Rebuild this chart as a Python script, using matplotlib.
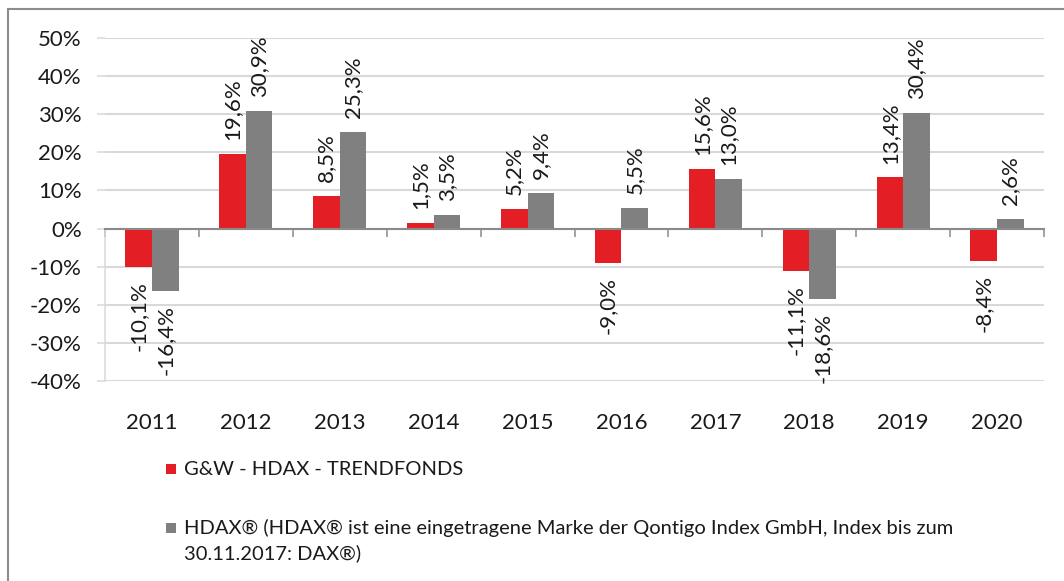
import numpy as np
import matplotlib
matplotlib.use("Agg")
import matplotlib.pyplot as plt
from matplotlib.patches import Rectangle

plt.rcParams['font.family'] = ['Lato', 'DejaVu Sans']

years = ["2011", "2012", "2013", "2014", "2015", "2016", "2017", "2018", "2019", "2020"]
fonds = [-10.1, 19.6, 8.5, 1.5, 5.2, -9.0, 15.6, -11.1, 13.4, -8.4]
hdax = [-16.4, 30.9, 25.3, 3.5, 9.4, 5.5, 13.0, -18.6, 30.4, 2.6]
yticks = [-40, -30, -20, -10, 0, 10, 20, 30, 40, 50]
label_fonds = "G&W - HDAX - TRENDFONDS"
label_hdax = ["HDAX\u00ae (HDAX\u00ae ist eine eingetragene Marke der Qontigo Index GmbH, Index bis zum",
              "30.11.2017: DAX\u00ae)"]

RED = "#e31e24"
GRAY = "#808080"
GRID = "#d9d9d9"
AXIS = "#8a8a8a"
TXT = "#1a1a1a"

W, H = 1064, 581
fig = plt.figure(figsize=(W / 100, H / 100), dpi=100)
ax = fig.add_axes([105 / W, 1 - 381 / H, 939 / W, 343 / H])

x = np.arange(len(years))
bw = 0.283
b1 = ax.bar(x - bw / 2, fonds, bw, color=RED, zorder=3)
b2 = ax.bar(x + bw / 2, hdax, bw, color=GRAY, zorder=3)

def fmt(v):
    return ("%.1f%%" % v).replace(".", ",")

for bars, vals in ((b1, fonds), (b2, hdax)):
    for r, v in zip(bars, vals):
        cx = r.get_x() + r.get_width() / 2
        if v >= 0:
            ax.annotate(fmt(v), (cx, v), xytext=(0, 10), textcoords="offset points",
                        rotation=90, ha="center", va="bottom", fontsize=16, color=TXT)
        else:
            ax.annotate(fmt(v), (cx, v), xytext=(0, -10), textcoords="offset points",
                        rotation=90, ha="center", va="top", fontsize=16, color=TXT)

ax.set_xlim(-0.5, len(years) - 0.5)
ax.set_ylim(-40, 50)
ax.set_yticks(yticks)
ax.set_yticklabels(["%d%%" % t for t in yticks], fontsize=16, color=TXT)
ax.yaxis.grid(True, color=GRID, lw=1.5, zorder=0)
ax.set_axisbelow(True)
ax.tick_params(axis="y", length=5.8, width=1.1, color=GRID, pad=11)

ax.spines["top"].set_visible(False)
ax.spines["right"].set_visible(False)
ax.spines["left"].set_color(GRID)
ax.spines["left"].set_linewidth(1.1)
ax.spines["left"].set_bounds(-40, 0)
ax.spines["bottom"].set_position(("data", 0))
ax.spines["bottom"].set_color(AXIS)
ax.spines["bottom"].set_linewidth(1.5)
ax.spines["bottom"].set_zorder(4)

ax.set_xticks(x)
ax.set_xticklabels(years, fontsize=16, color=TXT)
ax.set_xticks(np.arange(-0.5, len(years), 1.0), minor=True)
ax.tick_params(axis="x", which="major", length=0, pad=133)
ax.tick_params(axis="x", which="minor", length=5.8, width=1.1, color=AXIS)

# outer frame of the chart
fig.add_artist(Rectangle((8 / W, -0.1), 1.2, 1.1 - 9 / H, transform=fig.transFigure,
                         fill=False, edgecolor="#8c8c8c", lw=1.5, clip_on=False))

# legend below the plot
fs_leg = 14.5
fig.add_artist(Rectangle((166 / W, 1 - 474 / H), 10 / W, 10 / H, transform=fig.transFigure,
                         facecolor=RED, edgecolor="none"))
fig.text(184 / W, 1 - 475 / H, label_fonds, fontsize=fs_leg, color=TXT, va="baseline")
fig.add_artist(Rectangle((166 / W, 1 - 533 / H), 10 / W, 10 / H, transform=fig.transFigure,
                         facecolor=GRAY, edgecolor="none"))
fig.text(184 / W, 1 - 534 / H, label_hdax[0], fontsize=fs_leg, color=TXT, va="baseline")
fig.text(184 / W, 1 - 559 / H, label_hdax[1], fontsize=fs_leg, color=TXT, va="baseline")

fig.savefig("out.png", dpi=100, facecolor="white")
